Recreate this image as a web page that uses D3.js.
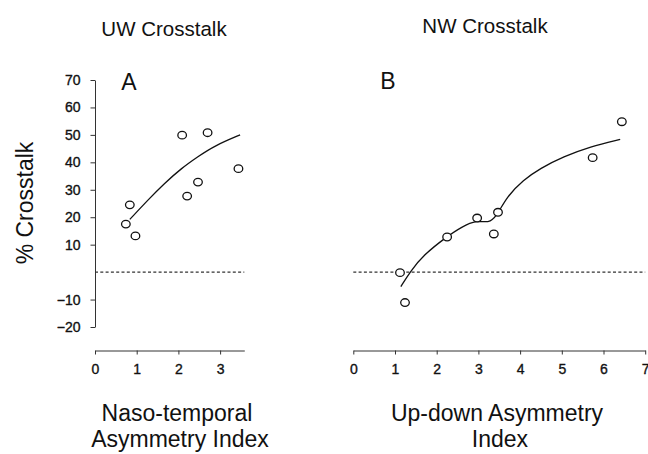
<!DOCTYPE html>
<html>
<head>
<meta charset="utf-8">
<script src="https://cdn.jsdelivr.net/npm/d3@7"></script>
<style>
  body { margin: 0; background: #fff; }
  svg { display: block; font-family: "Liberation Sans", Arial, sans-serif; }
  .axis path, .axis line { stroke: #333; stroke-width: 1; }
  .axis text { font-size: 14px; fill: #111; stroke: #111; stroke-width: 0.35; font-family: "Liberation Sans", Arial, sans-serif; }
</style>
</head>
<body>
<svg width="648" height="454"></svg>
<script>
// ---- data ----
// panel A : UW crosstalk vs naso-temporal asymmetry index
var uwX = [0.74, 0.835, 0.97, 2.09, 2.21, 2.47, 2.70, 3.44];
var uwY = [17.5, 24.5, 13.2, 49.9, 27.7, 32.8, 50.8, 37.7];
// fitted curve, points
var uwFitX = [0.835, 1.27, 1.67, 2.07, 2.47, 2.86, 3.48];
var uwFitY = [19.2, 26.3, 32.4, 37.8, 42.1, 46.0, 50.0];

// panel B : NW crosstalk vs up-down asymmetry index
var nwX = [1.12, 1.24, 2.25, 2.97, 3.37, 3.47, 5.74, 6.44];
var nwY = [-0.2, -11.1, 12.8, 19.7, 13.9, 21.8, 41.7, 54.8];
var nwFitX = [1.14, 1.36, 1.68, 2.24, 2.60, 2.96, 3.24, 3.44, 3.68, 4.08, 4.48, 5.04, 5.68, 6.40];
var nwFitY = [-5.3, 0.1, 6.2, 12.9, 16.5, 19.0, 17.8, 20.4, 27.5, 33.6, 37.8, 42.1, 45.7, 48.4];

var yTicks = [-20, -10, 10, 20, 30, 40, 50, 60, 70];
var xTicksA = [0, 1, 2, 3];
var xTicksB = [0, 1, 2, 3, 4, 5, 6, 7];

var svg = d3.select("svg");
var unit = 41.7; // px per index unit, same for both panels

// scales
var y = d3.scaleLinear().domain([-20, 70]).range([327, 80]);
var xA = d3.scaleLinear().domain([0, 3.58]).range([95, 95 + 3.58 * unit]);
var xB = d3.scaleLinear().domain([0, 7]).range([353.3, 353.3 + 7 * unit]);
var axisY = 350.5;
var fmt = d3.format("d");

function zip(a, b) { return a.map(function(v, i) { return [v, b[i]]; }); }

//////////// axes ////////////
svg.append("g")
    .attr("class", "axis")
    .attr("transform", "translate(95,0)")
    .call(d3.axisLeft(y).tickValues(yTicks).tickFormat(fmt).tickSize(4.5).tickSizeOuter(0).tickPadding(10));

svg.append("g")
    .attr("class", "axis")
    .attr("transform", "translate(0," + axisY + ")")
    .call(d3.axisBottom(xA).tickValues(xTicksA).tickFormat(fmt).tickSize(4).tickSizeOuter(0).tickPadding(10));

svg.append("g")
    .attr("class", "axis")
    .attr("transform", "translate(0," + axisY + ")")
    .call(d3.axisBottom(xB).tickValues(xTicksB).tickFormat(fmt).tickSize(4).tickSizeOuter(0).tickPadding(10));

svg.selectAll(".axis text").attr("font-size", null);

//////////// panels ////////////
function drawPanel(x, px, py, fx, fy) {
    // zero reference
    svg.append("line")
        .attr("x1", x.range()[0]).attr("x2", x.range()[1])
        .attr("y1", y(0)).attr("y2", y(0))
        .attr("stroke", "#333")
        .attr("stroke-width", 1.2)
        .attr("stroke-dasharray", "3,2.3");

    var line = d3.line()
        .x(function(d) { return x(d[0]); })
        .y(function(d) { return y(d[1]); })
        .curve(d3.curveBasis);

    svg.append("path")
        .datum(zip(fx, fy))
        .attr("d", line)
        .attr("fill", "none")
        .attr("stroke", "#111")
        .attr("stroke-width", 1.3);

    svg.append("g").selectAll("ellipse")
        .data(zip(px, py))
        .enter().append("ellipse")
        .attr("cx", function(d) { return x(d[0]); })
        .attr("cy", function(d) { return y(d[1]); })
        .attr("rx", 4.3)
        .attr("ry", 3.8)
        .attr("fill", "#fff")
        .attr("stroke", "#111")
        .attr("stroke-width", 1.3);
}

drawPanel(xA, uwX, uwY, uwFitX, uwFitY);
drawPanel(xB, nwX, nwY, nwFitX, nwFitY);

//////////// text ////////////
function label(txt, x, yy, size, anchor) {
    return svg.append("text")
        .attr("x", x).attr("y", yy)
        .attr("font-size", size)
        .attr("text-anchor", anchor || "middle")
        .attr("fill", "#111")
        .text(txt);
}

label("UW Crosstalk", 164, 36, 20.5);
label("NW Crosstalk", 485, 33, 20.5);
label("A", 129, 90, 23);
label("B", 388, 89, 23);

label("Naso-temporal", 177, 421, 23);
label("Asymmetry Index", 180, 447, 23);
label("Up-down Asymmetry", 497, 421, 23);
label("Index", 500, 447, 23);

svg.append("text")
    .attr("transform", "translate(33,203) rotate(-90)")
    .attr("font-size", 23)
    .attr("text-anchor", "middle")
    .attr("fill", "#111")
    .text("% Crosstalk");
</script>
</body>
</html>
